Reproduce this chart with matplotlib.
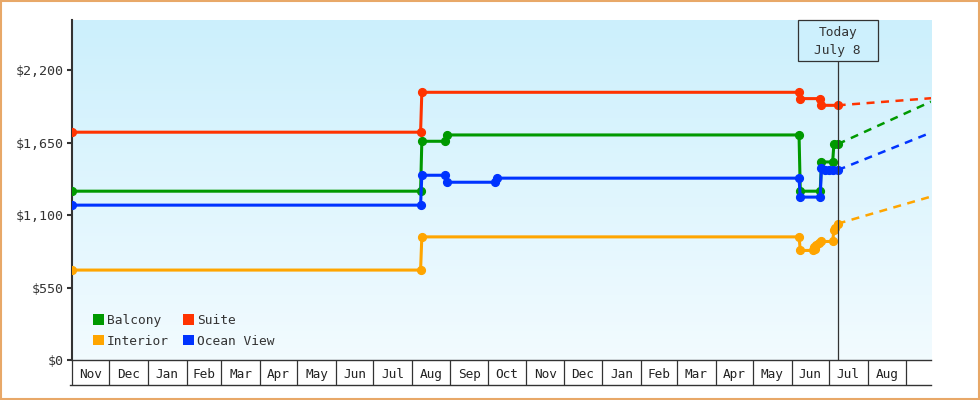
import datetime as dt

import matplotlib
matplotlib.use("Agg")
import matplotlib.pyplot as plt
import matplotlib.dates as mdates
import matplotlib.transforms as mtransforms
import numpy as np
import pandas as pd
from matplotlib.patches import Patch, Rectangle
from matplotlib.ticker import FixedLocator, FixedFormatter, NullFormatter, FuncFormatter

# price history (date, price) per cabin type
balcony_dates = ["2022-11-01", "2023-08-08", "2023-08-09", "2023-08-28", "2023-08-29", "2024-06-07",
                 "2024-06-08", "2024-06-24", "2024-06-25", "2024-07-04", "2024-07-05", "2024-07-08"]
balcony_prices = [1282, 1282, 1661, 1661, 1709, 1709, 1282, 1282, 1504, 1504, 1639, 1639]

suite_dates = ["2022-11-01", "2023-08-08", "2023-08-09", "2024-06-07", "2024-06-08", "2024-06-24",
               "2024-06-25", "2024-07-08"]
suite_prices = [1730, 1730, 2033, 2033, 1985, 1985, 1934, 1934]

interior_dates = ["2022-11-01", "2023-08-08", "2023-08-09", "2024-06-07", "2024-06-08", "2024-06-18",
                  "2024-06-19", "2024-06-20", "2024-06-21", "2024-06-23", "2024-06-25", "2024-07-04",
                  "2024-07-05", "2024-07-06", "2024-07-08"]
interior_prices = [683, 683, 935, 935, 832, 832, 855, 840, 870, 885, 900, 900, 985, 1000, 1035]

ocean_dates = ["2022-11-01", "2023-08-08", "2023-08-09", "2023-08-28", "2023-08-29", "2023-10-07",
               "2023-10-08", "2024-06-07", "2024-06-08", "2024-06-24", "2024-06-25", "2024-06-28",
               "2024-07-01", "2024-07-04", "2024-07-08"]
ocean_prices = [1176, 1176, 1403, 1403, 1350, 1350, 1381, 1381, 1237, 1237, 1455, 1440, 1445, 1440, 1442]

# forecast end point (dashed)
forecast_date = "2024-09-21"
forecast_prices = {"Balcony": 1962, "Suite": 1988, "Interior": 1241, "Ocean View": 1727}

today = "2024-07-08"
today_label = "Today\nJuly 8"
x_start, x_end = "2022-11-01", "2024-09-21"
y_ticks = [0, 550, 1100, 1650, 2200]
y_max = 2582

colors = {"Balcony": "#009900", "Suite": "#ff3300", "Interior": "#ffa500", "Ocean View": "#0033ff"}


def d(s):
    return dt.datetime.strptime(s, "%Y-%m-%d")


plt.rcParams['font.family'] = ['DejaVu Sans Mono']
dark = "#333333"

fig = plt.figure(figsize=(9.8, 4), dpi=100)
ax = fig.add_axes([72 / 980, 40 / 400, 859 / 980, 340 / 400])

series = [("Balcony", balcony_dates, balcony_prices),
          ("Suite", suite_dates, suite_prices),
          ("Interior", interior_dates, interior_prices),
          ("Ocean View", ocean_dates, ocean_prices)]

for name, dates, prices in series:
    xs = [d(s) for s in dates]
    c = colors[name]
    ax.plot([xs[-1], d(forecast_date)], [prices[-1], forecast_prices[name]], color=c, lw=1.8,
            linestyle=(0, (3.2, 2.6)), zorder=2)
    ax.plot(xs, prices, color=c, lw=2.2, marker='o', ms=5.6, mec=c, zorder=3)

# background gradient
t = np.linspace(0, 1, 256)[:, None, None]
top = np.array([0.80, 0.94, 0.99])
bottom = np.array([0.95, 0.985, 1.0])
img = top * (1 - t) + bottom * t
ax.imshow(img, extent=[0, 1, 0, 1], transform=ax.transAxes, aspect='auto', zorder=0,
          interpolation='bilinear')

ax.set_xlim(d(x_start), d(x_end))
ax.set_ylim(0, y_max)

# y axis
ax.set_yticks(y_ticks)
ax.yaxis.set_major_formatter(FuncFormatter(lambda v, p: f"${v:,.0f}"))
ax.tick_params(axis='y', length=3.6, width=1.5, color=dark, pad=2, labelsize=9.6, labelcolor=dark)

# x axis: month boxes
starts = pd.date_range("2022-11-01", "2024-09-01", freq="MS")
mids = starts[:-1] + (starts[1:] - starts[:-1]) / 2
ax.xaxis.set_major_locator(FixedLocator(mdates.date2num(starts.to_pydatetime())))
ax.xaxis.set_major_formatter(NullFormatter())
ax.xaxis.set_minor_locator(FixedLocator(mdates.date2num(mids.to_pydatetime())))
ax.xaxis.set_minor_formatter(FixedFormatter([m.strftime("%b") for m in mids]))
ax.tick_params(axis='x', which='major', length=18, width=0.9, color=dark, direction='out')
ax.tick_params(axis='x', which='minor', length=0, pad=5.5, labelsize=9.2, labelcolor='#222222')
ax.plot([-2 / 859, 1], [-25 / 340, -25 / 340], transform=ax.transAxes, clip_on=False, color=dark, lw=1)

for s in ["top", "right"]:
    ax.spines[s].set_visible(False)
ax.spines["left"].set_linewidth(1.5)
ax.spines["left"].set_color(dark)
ax.spines["bottom"].set_linewidth(1)
ax.spines["bottom"].set_color(dark)

# today marker
box_h = 40.7 / 340
blend = mtransforms.blended_transform_factory(ax.transData, ax.transAxes)
tnum = mdates.date2num(d(today))
ax.plot([tnum, tnum], [0, 1 - box_h], transform=blend, color=dark, lw=0.9, zorder=4)
ax.add_patch(Rectangle((tnum - 32.1, 1 - box_h), 64.3, box_h, transform=blend, fc="#cdf0fd",
                       ec=dark, lw=0.9, zorder=5, clip_on=False))
line1, line2 = today_label.split("\n")
ax.text(tnum, 1 - 12.3 / 340, line1, transform=blend, ha='center', va='center', fontsize=9.3,
        color=dark, zorder=6)
ax.text(tnum, 1 - 30.7 / 340, line2, transform=blend, ha='center', va='center', fontsize=9.3,
        color=dark, zorder=6)

# legend
order = ["Balcony", "Interior", "Suite", "Ocean View"]
handles = [Patch(facecolor=colors[n], edgecolor='none', label=n) for n in order]
ax.legend(handles=handles, ncol=2, loc='lower left', bbox_to_anchor=(0.0248, 0.036), frameon=False,
          fontsize=9.3, handlelength=0.83, handleheight=0.83, handletextpad=0.22, columnspacing=1.1,
          labelspacing=0.6, borderpad=0, borderaxespad=0, labelcolor=dark)

fig.patches.append(Rectangle((1 / 980, 1 / 400), 978 / 980, 398 / 400, transform=fig.transFigure,
                             fill=False, ec="#e8a868", lw=1.5))

fig.savefig("out.png", dpi=100)
